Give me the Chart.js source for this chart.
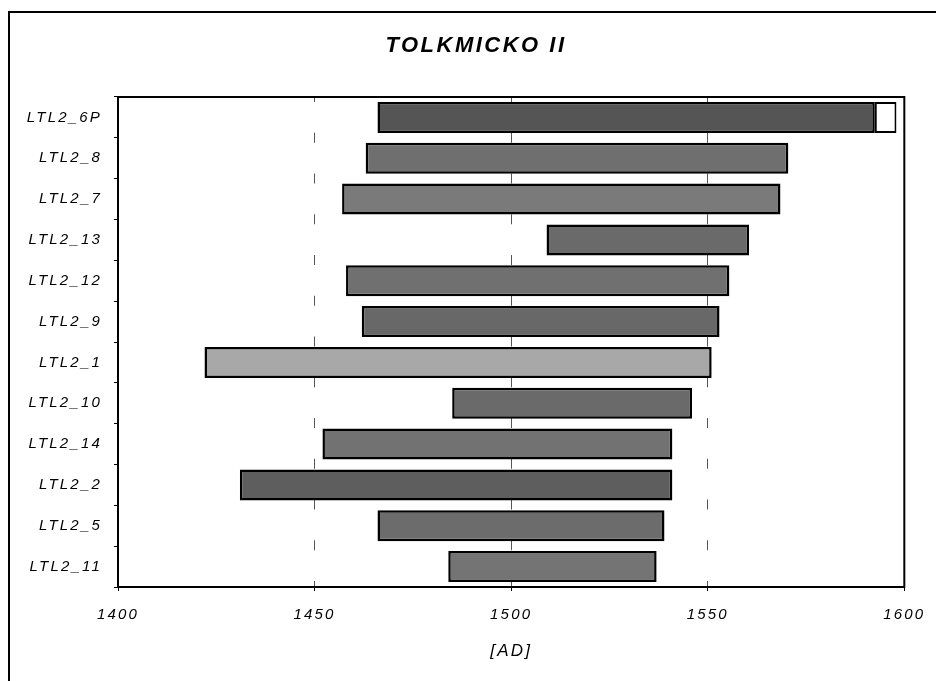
<!DOCTYPE html>
<html>
<head>
<meta charset="utf-8">
<script src="https://cdn.jsdelivr.net/npm/chart.js@4/dist/chart.umd.min.js"></script>
<style>
	html,body{margin:0;padding:0;background:#fff;}
	#wrap{width:936px;height:681px;position:relative;}
</style>
</head>
<body>
<div id="wrap"><canvas id="c"></canvas></div>
<script>
// Sample names, top to bottom
const categories = ['LTL2_6P','LTL2_8','LTL2_7','LTL2_13','LTL2_12','LTL2_9','LTL2_1','LTL2_10','LTL2_14','LTL2_2','LTL2_5','LTL2_11'];
// Dated span of each sample [AD]
const rangeStart = [1466,1463,1457,1509,1458,1462,1422,1485,1452,1431,1466,1484];
const rangeEnd   = [1592.5,1570.5,1568.5,1560.5,1555.5,1553,1551,1546,1541,1541,1539,1537];
// Open (white) extension on LTL2_6P only
const extStart = [1592.5,null,null,null,null,null,null,null,null,null,null,null];
const extEnd   = [1598,null,null,null,null,null,null,null,null,null,null,null];
// Axis ticks
const xTicks = [1400,1450,1500,1550,1600];
const chartTitle = 'TOLKMICKO II';
const xTitle = '[AD]';

// grey tone of each bar (scan texture averaged)
const barFills = ['#555555','#6f6f6f','#7a7a7a','#6a6a6a','#707070','#686868','#a8a8a8','#6a6a6a','#727272','#5e5e5e','#6c6c6c','#747474'];

const font = '"Liberation Sans", Arial, sans-serif';

const framePlugin = {
	id: 'frame',
	beforeDraw(chart){
		var ctx = chart.ctx;
		ctx.save();
		ctx.fillStyle = '#fff';
		ctx.fillRect(0,0,chart.width,chart.height);
		ctx.restore();
		// spaced-out lettering like the original
		ctx.letterSpacing = '2.2px';
	},
	afterDraw(chart){
		var ctx = chart.ctx, a = chart.chartArea;
		ctx.save();
		ctx.strokeStyle = '#000';
		ctx.lineWidth = 2;
		ctx.strokeRect(a.left, a.top, a.right-a.left, a.bottom-a.top);
		// outer frame (left and top edges visible)
		ctx.beginPath();
		ctx.moveTo(9, chart.height);
		ctx.lineTo(9, 12);
		ctx.lineTo(chart.width, 12);
		ctx.stroke();
		// title
		ctx.font = 'italic bold 22px '+font;
		ctx.letterSpacing = '2.5px';
		ctx.fillStyle = '#000';
		ctx.textAlign = 'center';
		ctx.textBaseline = 'middle';
		ctx.fillText(chartTitle, 476, 46);
		ctx.restore();
	}
};

new Chart(document.getElementById('c'), {
	type: 'bar',
	data: {
		labels: categories,
		datasets: [{
			data: categories.map((c,i) => [rangeStart[i], rangeEnd[i]]),
			backgroundColor: barFills,
			borderColor: '#000',
			borderWidth: 2.5,
			borderSkipped: false
		},{
			data: categories.map((c,i) => extStart[i]===null ? null : [extStart[i], extEnd[i]]),
			backgroundColor: '#fff',
			borderColor: '#000',
			borderWidth: 2,
			borderSkipped: false
		}]
	},
	options: {
		indexAxis: 'y',
		responsive: true,
		maintainAspectRatio: false,
		animation: false,
		grouped: false,
		categoryPercentage: 1,
		barPercentage: 0.76,
		layout: {padding: {left: 0, top: 97, right: 31, bottom: 0}},
		plugins: {legend: {display: false}, tooltip: {enabled: false}, title: {display: false}},
		scales: {
			x: {
				type: 'linear',
				min: 1400,
				max: 1600,
				afterBuildTicks: function(scale){ scale.ticks = xTicks.map(v => ({value: v})); },
				afterFit: function(scale){ scale.height = 94; },
				ticks: {
					color: '#000',
					padding: 15,
					font: {family: font, size: 15, style: 'italic'},
					callback: function(v){ return String(v); }
				},
				grid: {
					color: '#555',
					lineWidth: 1,
					tickLength: 4,
					tickColor: '#000',
					tickWidth: 1
				},
				border: {display: false, dash: [10, 30.75], dashOffset: 5},
				title: {
					display: true,
					text: xTitle,
					color: '#000',
					padding: {top: 0, bottom: 20},
					font: {family: font, size: 17, style: 'italic'}
				}
			},
			y: {
				type: 'category',
				offset: true,
				afterFit: function(scale){ scale.width = 118; },
				ticks: {
					color: '#000',
					padding: 12,
					font: {family: font, size: 15, style: 'italic'}
				},
				grid: {
					offset: true,
					drawOnChartArea: false,
					tickLength: 4,
					tickColor: '#000',
					tickWidth: 1
				},
				border: {display: false}
			}
		}
	},
	plugins: [framePlugin]
});
</script>
</body>
</html>
